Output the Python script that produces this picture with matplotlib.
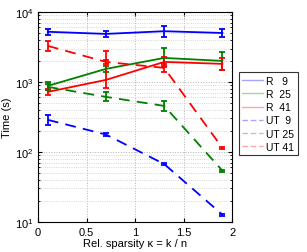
import matplotlib
matplotlib.use('Agg')
import matplotlib.pyplot as plt
from matplotlib.ticker import LogLocator, NullFormatter

plt.rcParams['font.family'] = ['Liberation Sans', 'DejaVu Sans']
plt.rcParams['font.size'] = 8

kappa = [0.1, 0.7, 1.3, 1.9]

labels = ['R   9', 'R  25', 'R  41', 'UT  9', 'UT 25', 'UT 41']

r9 = [5200, 4850, 5300, 5000]
r25 = [877, 1535, 2200, 1995]
r41 = [720, 1068, 1930, 1810]
ut9 = [287, 177, 67, 12.7]
ut25 = [849, 611, 454, 54]
ut41 = [3270, 1930, 1585, 114]

# lower / upper error per point
r9_err = [[500, 450, 880, 620], [550, 500, 1050, 700]]
r25_err = [[108, 145, 510, 510], [123, 160, 860, 690]]
r41_err = [[68, 248, 293, 324], [75, 1710, 345, 395]]
ut9_err = [[44, 8, 2, 0.4], [51, 9, 2, 0.4]]
ut25_err = [[80, 84, 69, 2], [88, 98, 81, 2]]
ut41_err = [[500, 120, 195, 4], [585, 130, 222, 4]]

series = [r9, r25, r41, ut9, ut25, ut41]
errors = [r9_err, r25_err, r41_err, ut9_err, ut25_err, ut41_err]
colors = ['#0000ff', '#008000', '#ff0000'] * 2
styles = ['-'] * 3 + ['--'] * 3


def main():
    fig = plt.figure(figsize=(3.07, 2.53), dpi=100)
    ax = fig.add_axes([0.124, 0.119, 0.632, 0.830])

    handles = []
    for vals, err, col, ls, lab in zip(series, errors, colors, styles, labels):
        ax.errorbar(kappa, vals, yerr=err, color=col, ls=ls, lw=1.3,
                    capsize=2, elinewidth=1.3, capthick=1.3,
                    dashes=(6, 4) if ls == '--' else (None, None))
        h, = ax.plot([], [], color=col, ls=ls, lw=1.0, alpha=0.35,
                     dashes=(4, 2) if ls == '--' else (None, None))
        handles.append(h)

    ax.set_yscale('log')
    ax.set_xlim(0, 2)
    ax.set_ylim(10, 1e4)
    ax.set_xticks([0, 0.5, 1, 1.5, 2])
    ax.set_xticklabels(['0', '0.5', '1', '1.5', '2'])
    ax.yaxis.set_minor_locator(LogLocator(base=10, subs=range(2, 10)))
    ax.yaxis.set_minor_formatter(NullFormatter())
    ax.tick_params(which='both', direction='in', top=True, right=True)
    ax.tick_params(which='major', length=3)
    ax.tick_params(which='minor', length=1.5)
    ax.grid(True, which='major', ls=':', color='#b0b0b0', lw=0.7)
    ax.grid(True, which='minor', axis='y', ls=':', color='#c8c8c8', lw=0.6)
    ax.set_axisbelow(True)

    ax.set_xlabel('Rel. sparsity κ = k / n', labelpad=1)
    ax.set_ylabel('Time (s)', labelpad=2)

    leg = fig.legend(handles, labels, loc='upper left',
                     bbox_to_anchor=(0.778, 0.71), frameon=True,
                     fancybox=False, edgecolor='black', handlelength=2.0,
                     handletextpad=0.25, labelspacing=0.3, borderpad=0.35,
                     borderaxespad=0, fontsize=7.5)
    leg.get_frame().set_linewidth(0.8)

    fig.savefig('out.png', dpi=100)


if __name__ == '__main__':
    main()
